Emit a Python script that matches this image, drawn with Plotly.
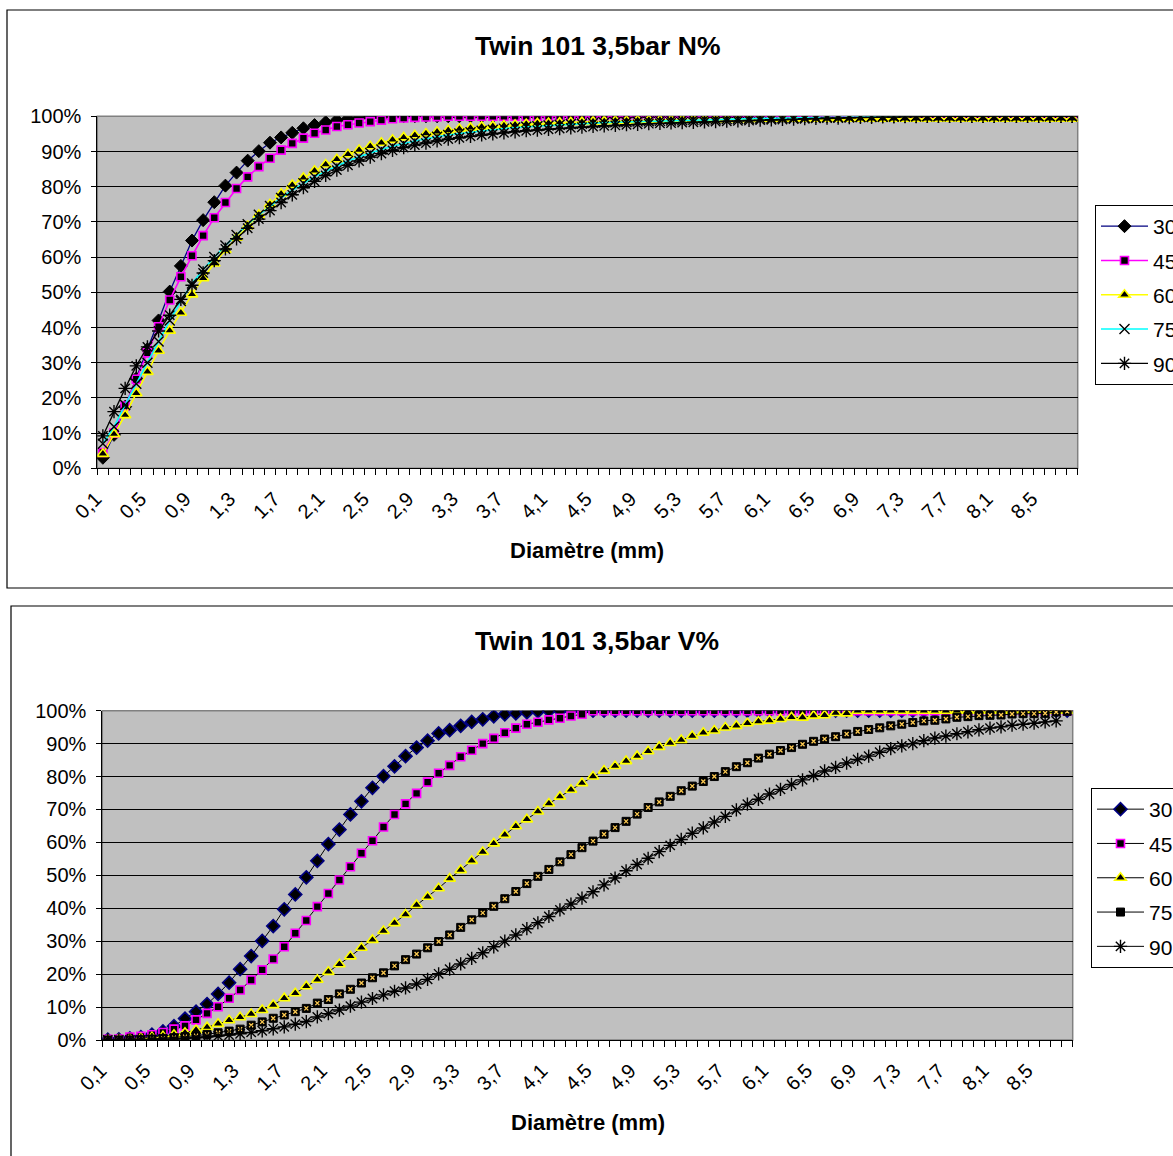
import plotly.graph_objects as go

W, H = 1173, 1156
FONT = "Liberation Sans, Arial, sans-serif"

# Diamètre des gouttes (mm)
diametre = [
    0.1, 0.2, 0.3, 0.4, 0.5, 0.6, 0.7, 0.8, 0.9, 1.0,
    1.1, 1.2, 1.3, 1.4, 1.5, 1.6, 1.7, 1.8, 1.9, 2.0,
    2.1, 2.2, 2.3, 2.4, 2.5, 2.6, 2.7, 2.8, 2.9, 3.0,
    3.1, 3.2, 3.3, 3.4, 3.5, 3.6, 3.7, 3.8, 3.9, 4.0,
    4.1, 4.2, 4.3, 4.4, 4.5, 4.6, 4.7, 4.8, 4.9, 5.0,
    5.1, 5.2, 5.3, 5.4, 5.5, 5.6, 5.7, 5.8, 5.9, 6.0,
    6.1, 6.2, 6.3, 6.4, 6.5, 6.6, 6.7, 6.8, 6.9, 7.0,
    7.1, 7.2, 7.3, 7.4, 7.5, 7.6, 7.7, 7.8, 7.9, 8.0,
    8.1, 8.2, 8.3, 8.4, 8.5, 8.6, 8.7, 8.8,
]

series_names = ["30", "45", "60", "75", "90"]

# Cumul en nombre (N%)
n30 = [
    3.0, 9.5, 17.5, 25.5, 33.8, 42.0, 50.2, 57.5, 64.7, 70.5,
    75.6, 80.3, 84.0, 87.4, 90.1, 92.5, 94.0, 95.3, 96.6, 97.5,
    98.3, 98.9, 99.3, 99.6, 99.8, 99.9, 100, 100, 100, 100,
    100, 100, 100, 100, 100, 100, 100, 100, 100, 100,
    100, 100, 100, 100, 100, 100, 100, 100, 100, 100,
    100, 100, 100, 100, 100, 100, 100, 100, 100, 100,
    100, 100, 100, 100, 100, 100, 100, 100, 100, 100,
    100, 100, 100, 100, 100, 100, 100, 100, 100, 100,
    100, 100, 100, 100, 100, 100, 100, 100,
]
n45 = [
    4.5, 10.0, 17.7, 25.3, 32.8, 40.2, 47.8, 54.4, 60.4, 66.1,
    71.2, 75.5, 79.5, 82.8, 85.7, 88.1, 90.4, 92.3, 93.8, 95.2,
    96.1, 97.1, 97.6, 98.1, 98.5, 98.9, 99.3, 99.5, 99.7, 99.8,
    99.9, 100, 100, 100, 100, 100, 100, 100, 100, 100,
    100, 100, 100, 100, 100, 100, 100, 100, 100, 100,
    100, 100, 100, 100, 100, 100, 100, 100, 100, 100,
    100, 100, 100, 100, 100, 100, 100, 100, 100, 100,
    100, 100, 100, 100, 100, 100, 100, 100, 100, 100,
    100, 100, 100, 100, 100, 100, 100, 100,
]
n60 = [
    4.1, 9.7, 15.1, 21.3, 27.4, 33.4, 39.1, 44.2, 49.4, 54.0,
    58.2, 62.0, 65.5, 68.8, 72.0, 75.0, 78.0, 80.5, 82.5, 84.5,
    86.3, 87.8, 89.2, 90.4, 91.5, 92.5, 93.3, 94.0, 94.6, 95.1,
    95.6, 96.0, 96.4, 96.7, 97.0, 97.2, 97.4, 97.6, 97.8, 98.0,
    98.1, 98.2, 98.3, 98.4, 98.5, 98.6, 98.7, 98.7, 98.8, 98.9,
    98.9, 99.0, 99.0, 99.1, 99.1, 99.1, 99.2, 99.2, 99.2, 99.3,
    99.3, 99.3, 99.3, 99.3, 99.3, 99.3, 99.3, 99.3, 99.3, 99.3,
    99.3, 99.3, 99.3, 99.3, 99.3, 99.3, 99.3, 99.3, 99.3, 99.3,
    99.3, 99.3, 99.3, 99.3, 99.3, 99.3, 99.3, 99.3,
]
n75 = [
    7.0, 11.8, 18.0, 24.0, 30.0, 36.0, 42.0, 47.5, 52.5, 56.5,
    60.0, 63.3, 66.3, 69.3, 72.0, 74.5, 76.8, 79.0, 81.0, 82.8,
    84.4, 85.9, 87.3, 88.5, 89.6, 90.6, 91.5, 92.3, 93.0, 93.6,
    94.2, 94.7, 95.1, 95.5, 95.9, 96.2, 96.5, 96.8, 97.0, 97.2,
    97.4, 97.6, 97.8, 97.9, 98.1, 98.2, 98.3, 98.4, 98.5, 98.6,
    98.7, 98.8, 98.9, 99.0, 99.1, 99.1, 99.2, 99.3, 99.3, 99.4,
    99.4, 99.5, 99.5, 99.6, 99.6, 99.7, 99.7, 99.8, 99.8, 99.9,
    99.9, 100, 100, 100, 100, 100, 100, 100, 100, 100,
    100, 100, 100, 100, 100, 100, 100, 100,
]
n90 = [
    9.2, 16.1, 22.7, 29.1, 34.5, 39.0, 43.5, 48.0, 52.0, 55.5,
    59.0, 62.3, 65.2, 68.2, 70.8, 73.2, 75.5, 77.7, 79.7, 81.5,
    83.2, 84.7, 86.1, 87.3, 88.4, 89.4, 90.3, 91.1, 91.8, 92.4,
    93.0, 93.5, 93.9, 94.3, 94.7, 95.0, 95.3, 95.6, 95.9, 96.1,
    96.3, 96.5, 96.7, 96.9, 97.1, 97.3, 97.4, 97.6, 97.7, 97.9,
    98.0, 98.1, 98.2, 98.3, 98.4, 98.5, 98.6, 98.7, 98.8, 98.9,
    99.0, 99.1, 99.2, 99.3, 99.4, 99.5, 99.5, 99.6, 99.7, 99.7,
    99.8, 99.8, 99.9, 99.9, 100, 100, 100, 100, 100, 100,
    100, 100, 100, 100, 100, 100, 100, 100,
]

# Cumul en volume (V%)
v30 = [
    0.1, 0.2, 0.5, 0.9, 1.6, 2.6, 4.2, 6.5, 8.6, 10.9,
    14.0, 17.4, 21.5, 25.5, 30.1, 34.6, 39.7, 44.2, 49.4, 54.4,
    59.5, 63.9, 68.5, 72.5, 76.6, 80.1, 83.1, 86.2, 88.8, 90.9,
    93.1, 94.1, 95.4, 96.6, 97.4, 98.3, 98.9, 99.2, 99.5, 99.8,
    100, 100, 100, 100, 100, 100, 100, 100, 100, 100,
    100, 100, 100, 100, 100, 100, 100, 100, 100, 100,
    100, 100, 100, 100, 100, 100, 100, 100, 100, 100,
    100, 100, 100, 100, 100, 100, 100, 100, 100, 100,
    100, 100, 100, 100, 100, 100, 100, 100,
]
v45 = [
    0.2, 0.3, 0.9, 1.1, 1.6, 2.3, 3.3, 4.3, 6.1, 8.1,
    10.1, 12.7, 15.2, 18.2, 21.3, 24.6, 28.3, 32.4, 36.3, 40.5,
    44.5, 48.6, 52.6, 56.7, 60.5, 64.7, 68.5, 71.7, 74.9, 78.3,
    81.0, 83.4, 86.0, 88.0, 90.0, 91.6, 93.3, 94.7, 95.9, 96.5,
    97.2, 97.7, 98.4, 98.9, 100, 100, 100, 100, 100, 100,
    100, 100, 100, 100, 100, 100, 100, 100, 100, 100,
    100, 100, 100, 100, 100, 100, 100, 100, 100, 100,
    100, 100, 100, 100, 100, 100, 100, 100, 100, 100,
    100, 100, 100, 100, 100, 100, 100, 100,
]
v60 = [
    0.0, 0.1, 0.2, 0.5, 0.8, 1.1, 1.6, 2.2, 3.0, 3.9,
    4.9, 6.0, 6.9, 7.9, 9.1, 10.6, 12.7, 14.2, 16.3, 18.3,
    20.7, 23.0, 25.4, 28.0, 30.4, 33.1, 35.5, 38.1, 41.0, 43.5,
    46.1, 49.0, 51.6, 54.4, 57.1, 59.7, 62.3, 64.9, 67.0, 69.4,
    71.8, 73.9, 76.0, 78.0, 80.0, 81.8, 83.2, 84.7, 86.2, 87.7,
    89.0, 90.2, 91.1, 92.3, 93.3, 94.0, 94.9, 95.4, 96.2, 96.7,
    97.0, 97.5, 98.0, 97.9, 98.5, 98.6, 99.3, 99.2, 100, 100,
    100, 100, 100, 100, 100, 100, 100, 100, 100, 100,
    100, 100, 100, 100, 100, 100, 100, 100,
]
v75 = [
    0.0, 0.0, 0.0, 0.1, 0.3, 0.5, 0.7, 1.0, 1.3, 1.7,
    2.2, 2.7, 3.3, 4.5, 5.5, 6.6, 7.6, 8.6, 9.6, 11.2,
    12.3, 14.0, 15.4, 17.3, 18.9, 20.4, 22.5, 24.4, 26.1, 28.0,
    29.9, 31.9, 34.2, 36.5, 38.6, 40.6, 42.9, 45.1, 47.5, 49.7,
    51.8, 54.1, 56.3, 58.4, 60.4, 62.5, 64.5, 66.4, 68.6, 70.6,
    72.3, 74.0, 75.7, 77.1, 78.5, 80.0, 81.5, 83.0, 84.2, 85.6,
    86.8, 87.9, 88.8, 89.8, 90.7, 91.4, 92.1, 92.9, 93.7, 94.3,
    94.8, 95.4, 95.9, 96.4, 96.9, 97.1, 97.5, 98.0, 98.2, 98.5,
    98.6, 98.7, 99.0, 99.1, 99.1, 99.2, 99.6, 99.8,
]
v90 = [
    0.0, 0.0, 0.0, 0.0, 0.1, 0.2, 0.3, 0.5, 0.7, 0.9,
    1.2, 1.5, 1.9, 2.3, 2.8, 3.4, 4.0, 4.8, 5.6, 7.0,
    8.0, 9.1, 10.3, 11.5, 12.6, 13.7, 14.8, 15.8, 17.0, 18.4,
    20.1, 21.5, 23.1, 24.8, 26.5, 28.3, 30.0, 31.9, 33.8, 35.6,
    37.5, 39.5, 41.3, 43.1, 45.0, 47.1, 49.2, 51.4, 53.3, 55.2,
    57.2, 59.1, 60.9, 62.8, 64.4, 66.2, 67.9, 69.9, 71.6, 73.1,
    74.7, 76.1, 77.6, 79.0, 80.3, 81.7, 82.8, 84.1, 85.2, 86.2,
    87.4, 88.5, 89.3, 90.0, 90.9, 91.7, 92.3, 93.0, 93.6, 94.2,
    94.7, 95.1, 95.6, 95.9, 96.2, 96.6, 96.9, None,
]


def fx(px):
    return px / W


def fy(py):
    return 1 - py / H


fig = go.Figure()

# ---- Graphique du haut : N% ----
top_style = [
    dict(line=dict(color="#000080", width=1.3),
         marker=dict(symbol="diamond", size=10, color="black", line=dict(color="black", width=1))),
    dict(line=dict(color="#FF00FF", width=1.6),
         marker=dict(symbol="square", size=8, color="black", line=dict(color="#FF00FF", width=1.6))),
    dict(line=dict(color="#FFFF00", width=1.6),
         marker=dict(symbol="triangle-up", size=10, color="black", line=dict(color="#FFFF00", width=1.6))),
    dict(line=dict(color="#00FFFF", width=1.6),
         marker=dict(symbol="x-thin-open", size=10, color="black", line=dict(color="black", width=1.4))),
    dict(line=dict(color="black", width=1.3),
         marker=dict(symbol="asterisk-open", size=11, color="black", line=dict(color="black", width=1.4))),
]
for name, ys, st in zip(series_names, [n30, n45, n60, n75, n90], top_style):
    fig.add_trace(go.Scatter(
        x=diametre, y=ys, name=name, mode="lines+markers",
        line=st["line"], marker=st["marker"],
        xaxis="x", yaxis="y", legend="legend", legendgroup="n" + name,
    ))

# ---- Graphique du bas : V% ----
bot_style = [
    dict(symbol="diamond", size=10, color="black", line=dict(color="#000080", width=1.6)),
    dict(symbol="square", size=8, color="black", line=dict(color="#FF00FF", width=1.6)),
    dict(symbol="triangle-up", size=10, color="black", line=dict(color="#FFFF00", width=1.6)),
    dict(symbol="square", size=8, color="black", line=dict(color="black", width=1)),
    dict(symbol="asterisk-open", size=11, color="black", line=dict(color="black", width=1.4)),
]
for name, ys, mk in zip(series_names, [v30, v45, v60, v75, v90], bot_style):
    fig.add_trace(go.Scatter(
        x=diametre, y=ys, name=name, mode="lines+markers",
        line=dict(color="black", width=1), marker=mk,
        xaxis="x2", yaxis="y2", legend="legend2", legendgroup="v" + name,
    ))
    if name == "75":
        # petite croix claire au centre des carrés
        fig.add_trace(go.Scatter(
            x=diametre, y=ys, mode="markers", showlegend=False, hoverinfo="skip",
            marker=dict(symbol="x-thin-open", size=4, line=dict(color="#C8FFFF", width=1.3)),
            xaxis="x2", yaxis="y2",
        ))


def xaxis_cfg(left, right, anchor):
    return dict(
        domain=[fx(left), fx(right)], anchor=anchor,
        range=[0.05, 8.85], tickmode="linear", tick0=0.1, dtick=0.4, tickformat=".1f",
        tickangle=-45, ticks="", showgrid=False, zeroline=False,
        showline=True, linecolor="black", linewidth=1,
        tickfont=dict(family=FONT, size=20, color="black"),
        ticklabelstandoff=10, ticklabelshift=-7,
        minor=dict(ticks="outside", ticklen=6, tickcolor="black", tickwidth=1,
                   tick0=0.05, dtick=0.1, showgrid=False),
    )


def yaxis_cfg(top, bottom, anchor):
    return dict(
        domain=[fy(bottom), fy(top)], anchor=anchor,
        range=[0, 100], tickmode="linear", tick0=0, dtick=10, ticksuffix="%",
        ticks="outside", ticklen=5, tickcolor="black",
        showgrid=True, gridcolor="black", gridwidth=1, zeroline=False,
        showline=True, linecolor="black", linewidth=1,
        tickfont=dict(family=FONT, size=20, color="black"),
        ticklabelstandoff=6,
    )


TOP = dict(l=97.3, r=1077.7, t=116.3, b=468.3)
BOT = dict(l=102.3, r=1072.7, t=710.7, b=1040.0)

legend_common = dict(
    bgcolor="white", bordercolor="black", borderwidth=1,
    font=dict(family=FONT, size=21, color="black"),
    xanchor="left", yanchor="top", tracegroupgap=4, itemwidth=47,
)

fig.update_layout(
    width=W, height=H, margin=dict(l=0, r=0, t=0, b=0, autoexpand=False),
    paper_bgcolor="white", plot_bgcolor="#C0C0C0",
    separators=", ",
    xaxis=xaxis_cfg(TOP["l"], TOP["r"], "y"),
    yaxis=yaxis_cfg(TOP["t"], TOP["b"], "x"),
    xaxis2=xaxis_cfg(BOT["l"], BOT["r"], "y2"),
    yaxis2=yaxis_cfg(BOT["t"], BOT["b"], "x2"),
    legend=dict(x=fx(1095), y=fy(205), **legend_common),
    legend2=dict(x=fx(1091), y=fy(788), **legend_common),
    showlegend=True,
)

# Cadres des deux graphiques et bordure grise des zones de tracé
shapes = [
    dict(type="rect", xref="paper", yref="paper",
         x0=fx(7), x1=fx(1200), y0=fy(588), y1=fy(10),
         line=dict(color="black", width=1.2), layer="below"),
    dict(type="rect", xref="paper", yref="paper",
         x0=fx(11), x1=fx(1200), y0=fy(1200), y1=fy(606),
         line=dict(color="black", width=1.2), layer="below"),
    dict(type="rect", xref="paper", yref="paper",
         x0=fx(TOP["l"]), x1=fx(TOP["r"]), y0=fy(TOP["b"]), y1=fy(TOP["t"]),
         line=dict(color="#808080", width=1.5), layer="below"),
    dict(type="rect", xref="paper", yref="paper",
         x0=fx(BOT["l"]), x1=fx(BOT["r"]), y0=fy(BOT["b"]), y1=fy(BOT["t"]),
         line=dict(color="#808080", width=1.5), layer="below"),
]
fig.update_layout(shapes=shapes)

annotations = [
    dict(text="<b>Twin 101 3,5bar N%</b>", x=fx(597), y=fy(46), size=26.5),
    dict(text="<b>Twin 101 3,5bar V%</b>", x=fx(597), y=fy(641), size=26.5),
    dict(text="<b>Diamètre (mm)</b>", x=fx(587), y=fy(550), size=22),
    dict(text="<b>Diamètre (mm)</b>", x=fx(588), y=fy(1122), size=22),
]
for a in annotations:
    size = a.pop("size")
    a.update(xref="paper", yref="paper", showarrow=False, xanchor="center", yanchor="middle",
             font=dict(family=FONT, size=size, color="black"))
fig.update_layout(annotations=annotations)

fig.write_html("out.html")
